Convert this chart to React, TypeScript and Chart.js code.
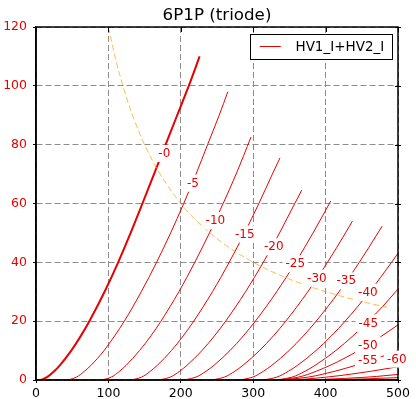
import React, { useEffect, useRef } from 'react';
import { Chart, registerables } from 'chart.js';

Chart.register(...registerables);

// ---- data (plate voltage V, plate current mA) ----
const c0V = [0, 6, 15.2, 25.1, 32.9, 48.7, 61.9, 73.7, 94.7, 113.5, 130.7, 147, 163, 179, 195, 211, 226];
const c0I = [0, 0, 1, 3, 5, 10, 15, 20, 30, 40, 50, 60, 70, 80, 90, 100, 110];

const c5V = [0, 40, 56, 67, 76, 94, 108.6, 122, 145.4, 166.5, 186, 204, 221, 237, 253, 265];
const c5I = [0, 0, 1, 3, 5, 10, 15, 20, 30, 40, 50, 60, 70, 80, 90, 98];

const c10V = [0, 85, 104, 115.5, 124.6, 143, 158.7, 172.6, 197.3, 219.3, 239.6, 258.5, 276.4, 297];
const c10I = [0, 0, 1, 3, 5, 10, 15, 20, 30, 40, 50, 60, 70, 82.6];

const c15V = [0, 125, 146, 158, 167.6, 187.1, 203.3, 217.9, 243.7, 266.8, 288, 307.8, 326.5, 337];
const c15I = [0, 0, 1, 3, 5, 10, 15, 20, 30, 40, 50, 60, 70, 75.5];

const c20V = [0, 163, 185.5, 198.5, 208.6, 229.2, 246.5, 261.9, 289.4, 313.9, 336.4, 357.4, 367];
const c20I = [0, 0, 1, 3, 5, 10, 15, 20, 30, 40, 50, 60, 64.5];

const c25V = [0, 197, 221, 235, 245.8, 267.9, 286.4, 303, 332.4, 358.6, 382.7, 407];
const c25I = [0, 0, 1, 3, 5, 10, 15, 20, 30, 40, 50, 60.8];

const c30V = [0, 235, 260.3, 274.7, 285.9, 308.7, 327.9, 345, 375.4, 402.6, 427.5, 437];
const c30I = [0, 0, 1, 3, 5, 10, 15, 20, 30, 40, 50, 54];

const c35V = [0, 273, 299.5, 314.3, 325.9, 349.5, 369.3, 387, 418.5, 446.5, 472.3, 478];
const c35I = [0, 0, 1, 3, 5, 10, 15, 20, 30, 40, 50, 52.3];

const c40V = [0, 305, 332.8, 348.8, 361.3, 386.7, 408, 427, 460.9, 491.1, 500];
const c40I = [0, 0, 1, 3, 5, 10, 15, 20, 30, 40, 43.1];

const c45V = [0, 320, 353.9, 371.7, 385.6, 414, 437.8, 459, 478.9, 496.7, 500];
const c45I = [0, 0, 1, 3, 5, 10, 15, 20, 25, 30, 30.9];

const c50V = [0, 322, 362.9, 387.3, 406.4, 426.9, 445.2, 461.6, 477.8, 500];
const c50I = [0, 0, 1, 3, 5, 7.5, 10, 12.5, 15, 18.75];

const c55V = [0, 325, 376.5, 396.4, 413.1, 441.7, 472.4, 500];
const c55I = [0, 0, 1, 2, 3, 5, 7.5, 10];

const c60V = [0, 345, 401.9, 435.3, 463.4, 500];
const c60I = [0, 0, 1, 2, 3, 4.5];

const c65V = [0, 360, 430, 470, 500];
const c65I = [0, 0, 0.6, 1.2, 1.9];

const c70V = [0, 380, 450, 500];
const c70I = [0, 0, 0.35, 0.8];

// max plate dissipation line
const pdV = [100, 110, 120, 135, 150, 170, 190, 210, 235, 260, 290, 320, 350, 385, 420, 455, 485];
const pdI = [120, 109.1, 100, 88.9, 80, 70.6, 63.2, 57.1, 51.1, 46.2, 41.4, 37.5, 34.3, 31.2, 28.6, 26.4, 24.7];

// curve labels (grid voltage)
const labelText = ['-0', '-5', '-10', '-15', '-20', '-25', '-30', '-35', '-40', '-45', '-50', '-55', '-60'];
const labelV = [177.2, 216.8, 247.8, 288.3, 328.5, 358.2, 388, 428.5, 458.4, 459, 458.4, 458.4, 498.4];
const labelI = [77.0, 66.9, 54.2, 49.6, 45.3, 39.5, 34.6, 33.7, 29.8, 19.3, 11.9, 6.8, 7.1];

const xTicks = [0, 100, 200, 300, 400, 500];
const yTicks = [0, 20, 40, 60, 80, 100, 120];

const titleText = '6P1P (triode)';
const legendText = 'HV1_I+HV2_I';

const RED = '#e80000';
const FONT = '"DejaVu Sans", "Liberation Sans", sans-serif';

const curves = [
  { V: c0V, I: c0I, w: 2 },
  { V: c5V, I: c5I, w: 1 },
  { V: c10V, I: c10I, w: 1 },
  { V: c15V, I: c15I, w: 1 },
  { V: c20V, I: c20I, w: 1 },
  { V: c25V, I: c25I, w: 1 },
  { V: c30V, I: c30I, w: 1 },
  { V: c35V, I: c35I, w: 1 },
  { V: c40V, I: c40I, w: 1 },
  { V: c45V, I: c45I, w: 1 },
  { V: c50V, I: c50I, w: 1 },
  { V: c55V, I: c55I, w: 1 },
  { V: c60V, I: c60I, w: 1 },
  { V: c65V, I: c65I, w: 1 },
  { V: c70V, I: c70I, w: 1 },
];

const toXY = (xs: number[], ys: number[]) => xs.map((v, i) => ({ x: v, y: ys[i] }));

const decor = {
  id: 'decor',
  afterDatasetsDraw(chart: any) {
    const { ctx, chartArea: ca, scales } = chart;
    const x = scales.x;
    const y = scales.y;
    ctx.save();
    // frame
    ctx.strokeStyle = '#000';
    ctx.lineWidth = 1.5;
    ctx.setLineDash([]);
    ctx.strokeRect(ca.left, ca.top, ca.right - ca.left, ca.bottom - ca.top);
    // right & top ticks
    ctx.lineWidth = 1;
    ctx.beginPath();
    yTicks.forEach((v) => {
      const py = Math.round(y.getPixelForValue(v)) + 0.5;
      ctx.moveTo(ca.right - 3, py);
      ctx.lineTo(ca.right + 3, py);
    });
    xTicks.forEach((v) => {
      const px = Math.round(x.getPixelForValue(v)) + 0.5;
      ctx.moveTo(px, ca.top);
      ctx.lineTo(px, ca.top + 5);
    });
    ctx.stroke();

    // curve labels
    ctx.font = `12px ${FONT}`;
    ctx.textAlign = 'center';
    ctx.textBaseline = 'middle';
    labelText.forEach((t, i) => {
      const px = x.getPixelForValue(labelV[i]);
      const py = y.getPixelForValue(labelI[i]);
      const w = ctx.measureText(t).width;
      ctx.fillStyle = '#fff';
      ctx.fillRect(px - w / 2 - 3, py - 8.5, w + 6, 17);
      ctx.fillStyle = RED;
      ctx.fillText(t, px, py + 0.5);
    });

    // title
    ctx.fillStyle = '#000';
    ctx.font = `16.7px ${FONT}`;
    ctx.textAlign = 'center';
    ctx.textBaseline = 'alphabetic';
    ctx.fillText(titleText, (ca.left + ca.right) / 2, 20);

    // legend
    ctx.font = `13.5px ${FONT}`;
    const tw = ctx.measureText(legendText).width;
    const boxRight = ca.right - 6.5;
    const boxTop = ca.top + 7;
    const boxW = tw + 53;
    const boxH = 25;
    const boxLeft = boxRight - boxW;
    ctx.fillStyle = '#fff';
    ctx.fillRect(boxLeft, boxTop, boxW, boxH);
    ctx.strokeStyle = '#000';
    ctx.lineWidth = 1;
    ctx.strokeRect(Math.round(boxLeft) + 0.5, Math.round(boxTop) + 0.5, Math.round(boxW), boxH);
    ctx.strokeStyle = RED;
    ctx.beginPath();
    ctx.moveTo(boxLeft + 10, boxTop + 12.5);
    ctx.lineTo(boxLeft + 31, boxTop + 12.5);
    ctx.stroke();
    ctx.fillStyle = '#000';
    ctx.textAlign = 'left';
    ctx.textBaseline = 'alphabetic';
    ctx.fillText(legendText, boxLeft + 45.7, boxTop + 17);
    ctx.restore();
  },
};

export default function App() {
  const ref = useRef<HTMLCanvasElement>(null);
  useEffect(() => {
    document.body.style.margin = '0';
    Chart.defaults.font.family = FONT;
    const datasets: any[] = curves.map((c) => ({
      data: toXY(c.V, c.I),
      showLine: true,
      borderColor: RED,
      backgroundColor: RED,
      borderWidth: c.w,
      pointRadius: 0,
      cubicInterpolationMode: 'monotone',
      fill: false,
      order: 1,
    }));
    datasets.unshift({
      data: toXY(pdV, pdI),
      showLine: true,
      borderColor: 'rgba(255,160,0,0.7)',
      borderWidth: 1,
      borderDash: [6, 3],
      pointRadius: 0,
      cubicInterpolationMode: 'monotone',
      fill: false,
      order: 0,
    });
    const chart = new Chart(ref.current as HTMLCanvasElement, {
      type: 'scatter',
      data: { datasets },
      options: {
        responsive: false,
        animation: false,
        devicePixelRatio: 1,
        events: [],
        layout: { padding: { top: 27, right: 18, left: 0, bottom: 0 } },
        plugins: {
          legend: { display: false },
          title: { display: false },
          tooltip: { enabled: false },
        },
        scales: {
          x: {
            type: 'linear',
            min: 0,
            max: 500,
            afterBuildTicks: (s: any) => {
              s.ticks = xTicks.map((v) => ({ value: v }));
            },
            afterFit: (s: any) => {
              s.height = 19;
            },
            ticks: {
              color: '#000',
              font: { family: FONT, size: 12.5 },
              padding: 3,
              maxRotation: 0,
            },
            grid: {
              color: '#8c8c8c',
              lineWidth: 1,
              drawTicks: true,
              tickLength: 3,
              tickColor: '#000',
            },
            border: { display: true, color: '#000', width: 1.5, dash: [6, 3] },
          },
          y: {
            type: 'linear',
            min: 0,
            max: 120,
            afterBuildTicks: (s: any) => {
              s.ticks = yTicks.map((v) => ({ value: v }));
            },
            afterFit: (s: any) => {
              s.width = 36;
            },
            ticks: {
              color: RED,
              font: { family: FONT, size: 12.5 },
              padding: 6,
            },
            grid: {
              color: '#8c8c8c',
              lineWidth: 1,
              drawTicks: true,
              tickLength: 3,
              tickColor: '#000',
            },
            border: { display: true, color: '#000', width: 1.5, dash: [6, 3] },
          },
        },
      },
      plugins: [decor],
    } as any);
    return () => chart.destroy();
  }, []);
  return (
    <div style={{ width: 416, height: 399 }}>
      <canvas ref={ref} width={416} height={399} style={{ display: 'block' }} />
    </div>
  );
}
